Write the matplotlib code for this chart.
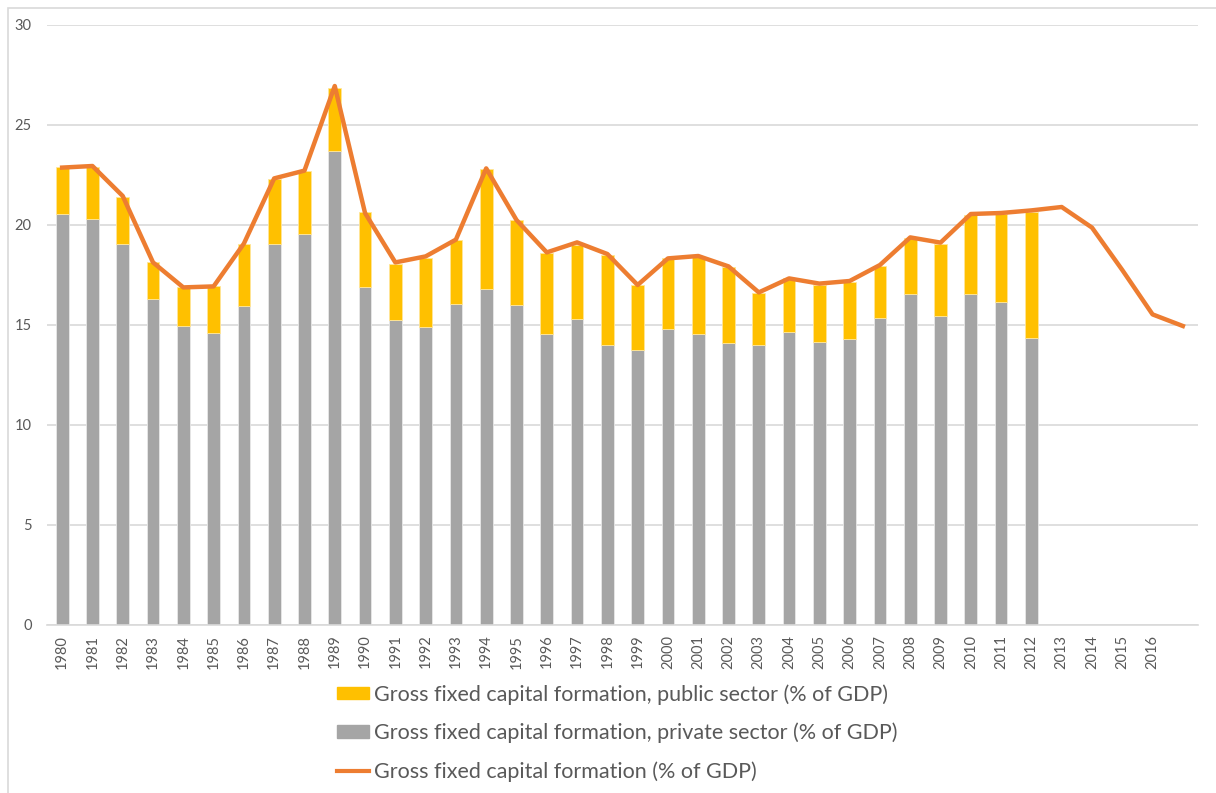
import matplotlib
matplotlib.use("Agg")
import matplotlib.pyplot as plt
from matplotlib.patches import Rectangle
from matplotlib.lines import Line2D
import numpy as np

years = list(range(1980, 2018))
tick_labels = [str(y) for y in range(1980, 2017)] + [""]

private = [20.55, 20.3, 19.07, 16.28, 14.97, 14.62, 15.97, 19.07, 19.57, 23.72,
           16.88, 15.23, 14.92, 16.03, 16.78, 15.98, 14.55, 15.28, 13.98, 13.75,
           14.78, 14.57, 14.12, 13.98, 14.67, 14.17, 14.28, 15.37, 16.53, 15.47,
           16.57, 16.15, 14.37]
public = [2.33, 2.58, 2.35, 1.85, 1.93, 2.33, 3.08, 3.23, 3.15, 3.15,
          3.79, 2.84, 3.45, 3.22, 6.0, 4.27, 4.05, 3.72, 4.52, 3.25,
          3.55, 3.85, 3.8, 2.6, 2.66, 2.83, 2.89, 2.58, 2.84, 3.58,
          3.93, 4.42, 6.28]
total = [22.87, 22.95, 21.45, 18.13, 16.88, 16.93, 19.07, 22.33, 22.72, 26.95,
         20.6, 18.13, 18.43, 19.27, 22.83, 20.25, 18.63, 19.13, 18.55, 17.0,
         18.33, 18.45, 17.93, 16.63, 17.33, 17.07, 17.2, 18.0, 19.38, 19.12,
         20.55, 20.6, 20.73, 20.9, 19.87, 17.75, 15.53, 14.95]

W, H = 1216, 793
fig = plt.figure(figsize=(W / 100, H / 100), dpi=100)
plt.rcParams['font.family'] = ['Lato', 'DejaVu Sans']

ax = fig.add_axes([47 / W, (H - 625) / H, (1198 - 47) / W, 600 / H])

x_all = np.arange(len(years))
x_bar = np.arange(len(private))
ax.bar(x_bar, private, width=0.42, color='#A5A5A5', edgecolor='#E8E8E8', linewidth=0.6, zorder=2)
ax.bar(x_bar, public, width=0.42, bottom=private, color='#FFC000', edgecolor='#FFE699', linewidth=0.6, zorder=2)
ax.plot(x_all, total, color='#ED7D31', linewidth=3.2, zorder=3, solid_joinstyle='round')

ax.set_xlim(-0.5, len(years) - 0.5)
ax.set_ylim(0, 30)
ax.set_yticks([0, 5, 10, 15, 20, 25, 30])
ax.set_xticks(x_all)
ax.set_xticklabels(tick_labels, rotation=90)
ax.tick_params(axis='both', length=0, colors='#595959', labelsize=10.5)
ax.tick_params(axis='y', pad=11)
ax.tick_params(axis='x', pad=7)
ax.grid(axis='y', color='#D9D9D9', linewidth=1.2, zorder=0)
ax.set_axisbelow(True)
for s in ['top', 'right', 'left']:
    ax.spines[s].set_visible(False)
ax.spines['bottom'].set_color('#D9D9D9')
ax.spines['bottom'].set_linewidth(1.2)

# chart border
fig.patches.append(Rectangle((8 / W, -0.1), 1.2, (H - 8) / H + 0.1, transform=fig.transFigure,
                             fill=False, edgecolor='#D9D9D9', linewidth=1.2))

h1 = Rectangle((0, 0), 1, 1, color='#FFC000')
h2 = Rectangle((0, 0), 1, 1, color='#A5A5A5')
h3 = Line2D([], [], color='#ED7D31', linewidth=3)
leg = fig.legend([h1, h2, h3],
                 ['Gross fixed capital formation, public sector (% of GDP)',
                  'Gross fixed capital formation, private sector (% of GDP)',
                  'Gross fixed capital formation (% of GDP)'],
                 loc='upper left', bbox_to_anchor=(337 / W, 1 - 684 / H),
                 frameon=False, fontsize=15.5, handlelength=1.5, handleheight=0.5,
                 handletextpad=0.22, labelspacing=0.83, borderpad=0, borderaxespad=0)
for t in leg.get_texts():
    t.set_color('#595959')

fig.savefig('out.png', dpi=100)
